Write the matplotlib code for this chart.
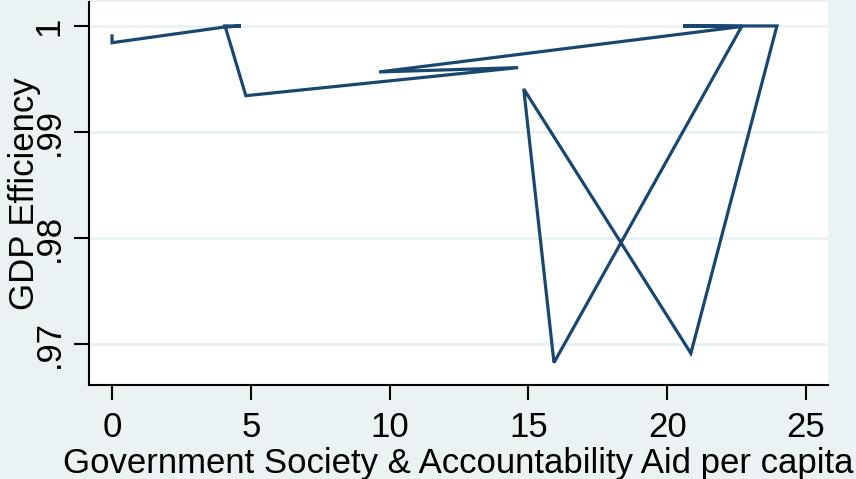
import matplotlib
matplotlib.use("Agg")
import matplotlib.pyplot as plt

# Data (in plotting order)
aid_per_capita = [0.0, 0.0, 4.00, 4.64, 4.07, 4.82, 14.63, 9.62, 22.68, 20.57, 23.95, 20.85, 14.83, 15.92, 22.68]
gdp_efficiency = [0.99906, 0.99842, 0.99988, 1.0, 1.0, 0.99342, 0.99607, 0.99566, 0.99995, 1.0, 1.0, 0.96912, 0.99406, 0.96824, 0.99995]

x_ticks = [0, 5, 10, 15, 20, 25]
x_tick_labels = ["0", "5", "10", "15", "20", "25"]
y_ticks = [0.97, 0.98, 0.99, 1.0]
y_tick_labels = [".97", ".98", ".99", "1"]

BG = "#EAF2F3"
LINE = "#1A476F"

plt.rcParams['font.family'] = ['Liberation Sans', 'DejaVu Sans']

W, H = 856, 479
fig = plt.figure(figsize=(W / 100, H / 100), dpi=100, facecolor=BG)
left_px, right_px, top_px, bottom_px = 89, 828, 2, 385
ax = fig.add_axes([left_px / W, (H - bottom_px) / H,
                   (right_px - left_px) / W, (bottom_px - top_px) / H])
ax.set_facecolor("white")

ax.plot(aid_per_capita, gdp_efficiency, color=LINE, linewidth=2.3,
        solid_joinstyle='miter', zorder=3)

ax.set_xlim(-0.83, 25.79)
ax.set_ylim(0.96613, 1.00226)

ax.set_xticks(x_ticks)
ax.set_xticklabels(x_tick_labels)
ax.set_yticks(y_ticks)
ax.set_yticklabels(y_tick_labels, rotation=90, va='center')

ax.grid(axis='y', color=BG, linewidth=2.2, zorder=1)
ax.grid(axis='x', visible=False)
ax.set_axisbelow(True)

for s in ['top', 'right']:
    ax.spines[s].set_visible(False)
for s in ['left', 'bottom']:
    ax.spines[s].set_linewidth(1.5)
    ax.spines[s].set_color('black')

ax.tick_params(axis='both', length=10.5, width=1.5, color='black',
               labelsize=25, labelcolor='black')
ax.tick_params(axis='x', pad=8.5)
ax.tick_params(axis='y', pad=6.5)

ax.set_xlabel("Government Society & Accountability Aid per capita", fontsize=25)
ax.xaxis.label.set_va('baseline')
ax.xaxis.set_label_coords(0.5, (bottom_px - 473) / (bottom_px - top_px))

ax.set_ylabel("GDP Efficiency", fontsize=25)
ax.yaxis.label.set_va('baseline')
ax.yaxis.set_label_coords((34 - left_px) / (right_px - left_px), 0.5)

fig.savefig("out.png", dpi=100, facecolor=BG)
